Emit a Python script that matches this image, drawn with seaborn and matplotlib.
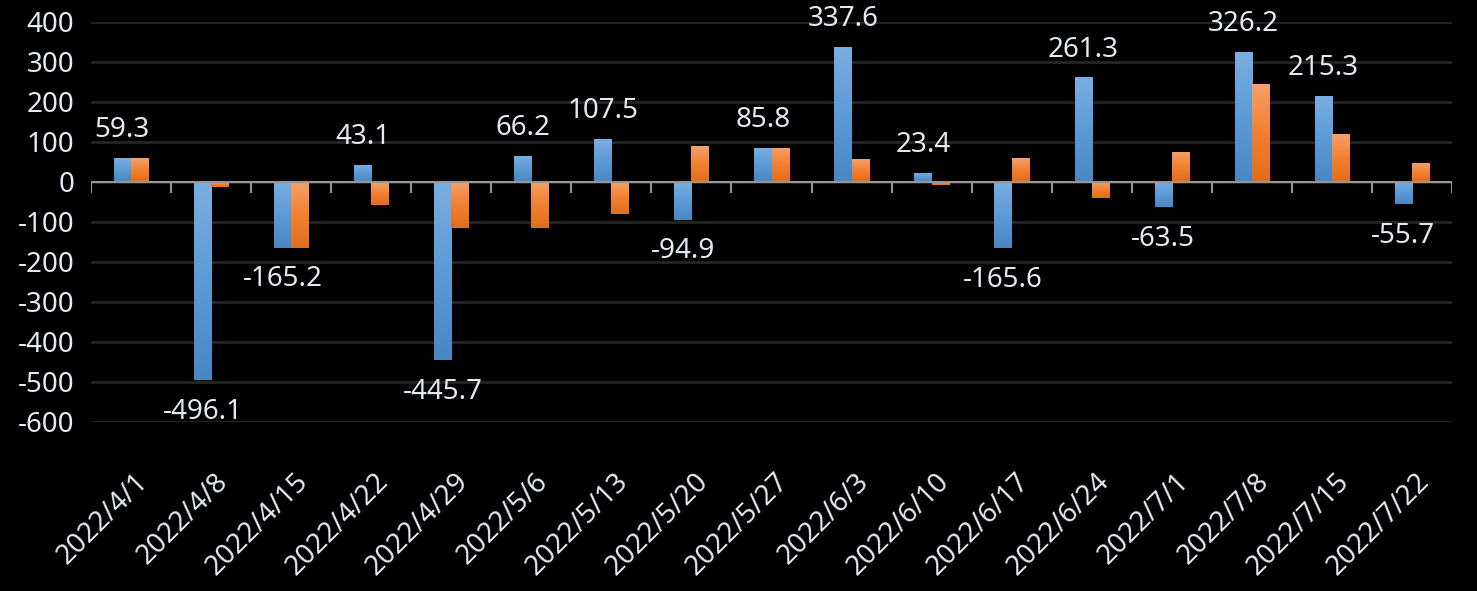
import numpy as np
import pandas as pd
import seaborn as sns
import matplotlib.pyplot as plt
import matplotlib.transforms as mtransforms
from matplotlib.colors import LinearSegmentedColormap

dates = ["2022/4/1", "2022/4/8", "2022/4/15", "2022/4/22", "2022/4/29", "2022/5/6",
         "2022/5/13", "2022/5/20", "2022/5/27", "2022/6/3", "2022/6/10", "2022/6/17",
         "2022/6/24", "2022/7/1", "2022/7/8", "2022/7/15", "2022/7/22"]
blue_vals = [59.3, -496.1, -165.2, 43.1, -445.7, 66.2, 107.5, -94.9, 85.8, 337.6,
             23.4, -165.6, 261.3, -63.5, 326.2, 215.3, -55.7]
# second series has no labels
orange_vals = [59.0, -12.5, -165.0, -57.5, -116.0, -116.0, -80.0, 89.0, 86.0, 56.5,
               -7.5, 59.0, -41.0, 74.0, 244.0, 119.0, 47.0]

df = pd.DataFrame({
    "date": dates * 2,
    "value": blue_vals + orange_vals,
    "series": ["A"] * len(dates) + ["B"] * len(dates),
})

sns.set_style("dark")
plt.rcParams["font.family"] = ["Noto Sans", "DejaVu Sans"]
plt.rcParams["axes.unicode_minus"] = False
txt_col = "#e4eaf2"

fig = plt.figure(figsize=(14.77, 5.91), dpi=100, facecolor="black")
ax = fig.add_axes([91 / 1477, 1 - 422 / 591, (1452 - 91) / 1477, 400 / 591])
ax.set_facecolor("black")

sns.barplot(data=df, x="date", y="value", hue="series", palette=["#5b9bd5", "#ed7d31"],
            width=0.43, gap=0, dodge=True, legend=False, ax=ax, zorder=3, linewidth=0,
            err_kws={"linewidth": 0})

# excel-like vertical gradient in each bar
cmaps = [LinearSegmentedColormap.from_list("b", ["#4a87c5", "#5b9bd5", "#7aaee2"]),
         LinearSegmentedColormap.from_list("o", ["#e06e1c", "#f28030", "#f4a06a"])]
grad = np.linspace(0, 1, 100).reshape(-1, 1)
n = len(dates)
for i, p in enumerate(list(ax.patches)):
    x0, y0 = p.get_x(), p.get_y()
    w, h = p.get_width(), p.get_height()
    ylo, yhi = min(y0, y0 + h), max(y0, y0 + h)
    im = ax.imshow(grad, extent=[x0, x0 + w, ylo, yhi], origin="lower", aspect="auto",
                   cmap=cmaps[i // n], zorder=3.5)
    im.set_clip_path(p)

ax.set_xlim(-0.5, n - 0.5)
ax.set_ylim(-600, 400)
ax.set_yticks(np.arange(-600, 401, 100))
ax.grid(axis="y", color="#262626", linewidth=2, zorder=0)
ax.grid(axis="x", visible=False)
for s in ax.spines.values():
    s.set_visible(False)

# zero axis with tick marks between categories
ax.axhline(0, color="#969696", linewidth=1.5, zorder=4)
bounds = np.arange(n + 1) - 0.5
ax.vlines(bounds, 0, -27, color="#969696", linewidth=1.5, zorder=4)

ax.set_xlabel("")
ax.set_ylabel("")
ax.tick_params(axis="y", length=0, pad=12, labelsize=20, labelcolor=txt_col)
ax.tick_params(axis="x", length=0, pad=40, labelsize=20, labelcolor=txt_col)
offset = mtransforms.ScaledTranslation(13 / 100, 0, fig.dpi_scale_trans)
for lab in ax.get_xticklabels():
    lab.set_rotation(45)
    lab.set_ha("right")
    lab.set_va("center")
    lab.set_rotation_mode("anchor")
    lab.set_transform(lab.get_transform() + offset)

bars = ax.containers[0]
ax.bar_label(bars, labels=[f"{v:.1f}" if v >= 0 else "" for v in blue_vals],
             padding=10, fontsize=20, color=txt_col, zorder=5)
ax.bar_label(bars, labels=[f"{v:.1f}" if v < 0 else "" for v in blue_vals],
             padding=12.5, fontsize=20, color=txt_col, zorder=5)

fig.savefig("out.png", dpi=100, facecolor="black")
